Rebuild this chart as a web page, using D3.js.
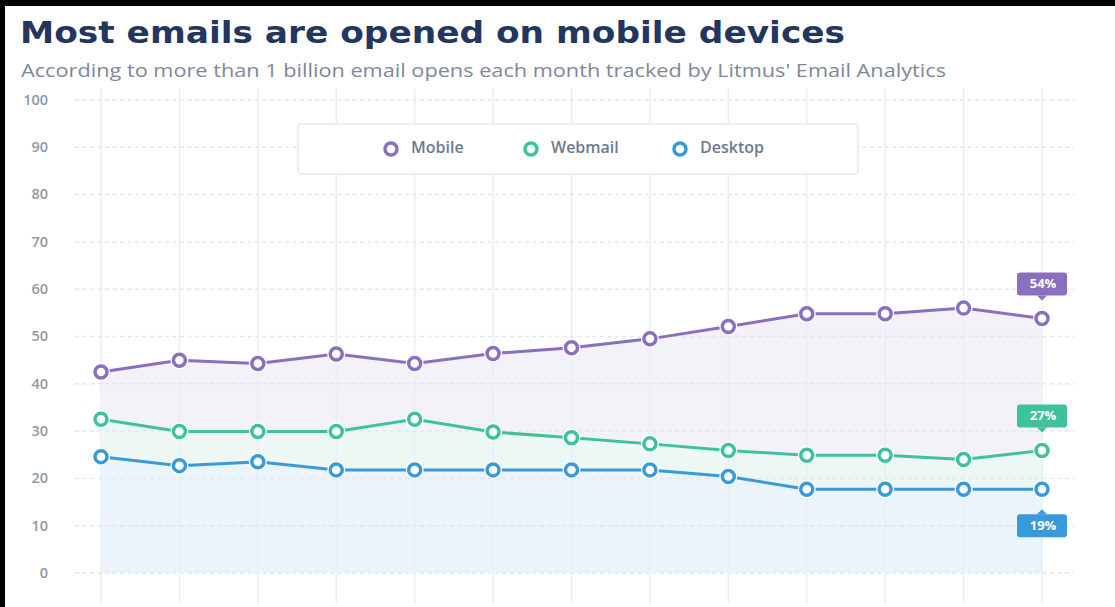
<!DOCTYPE html>
<html>
<head>
<meta charset="utf-8">
<script src="https://cdn.jsdelivr.net/npm/d3@7"></script>
<style>
  body { margin: 0; background: #000; }
  svg { display: block; }
</style>
</head>
<body>
<script>
var width = 1115,
    height = 607;

// months tracked (no labels shown on the chart)
var months = [1, 2, 3, 4, 5, 6, 7, 8, 9, 10, 11, 12, 13];
var mobile  = [42.5, 45.0, 44.3, 46.3, 44.3, 46.4, 47.6, 49.5, 52.1, 54.8, 54.8, 56.0, 53.8];
var webmail = [32.5, 29.9, 29.9, 29.9, 32.5, 29.8, 28.6, 27.3, 25.9, 24.9, 24.9, 24.0, 25.9];
var desktop = [24.6, 22.7, 23.5, 21.8, 21.8, 21.8, 21.8, 21.8, 20.4, 17.7, 17.7, 17.7, 17.7];
var yTicks = [0, 10, 20, 30, 40, 50, 60, 70, 80, 90, 100];
var seriesNames = ["Mobile", "Webmail", "Desktop"];
var endLabels = ["54%", "27%", "19%"];

var colors = ["#8a6fbe", "#3fc29c", "#3a9ad9"];
var fills  = ["#f4f2f9", "#edf8f5", "#ecf4fb"];

var svg = d3.select("body")
    .append("svg")
    .attr("width", width)
    .attr("height", height);

// black frame on the top and left, like the screenshot
svg.append("rect")
    .attr("x", 5).attr("y", 6)
    .attr("width", width - 5).attr("height", height - 6)
    .attr("fill", "#fff");

// titles
svg.append("text")
    .attr("x", 20).attr("y", 43)
    .attr("textLength", 825)
    .attr("lengthAdjust", "spacingAndGlyphs")
    .style("font-family", "'DejaVu Sans', sans-serif")
    .style("font-weight", "bold")
    .style("font-size", "30px")
    .style("fill", "#22365f")
    .text("Most emails are opened on mobile devices");

svg.append("text")
    .attr("x", 21).attr("y", 77)
    .attr("textLength", 925)
    .attr("lengthAdjust", "spacingAndGlyphs")
    .style("font-family", "'Open Sans', sans-serif")
    .style("font-size", "18.5px")
    .style("fill", "#7d889a")
    .text("According to more than 1 billion email opens each month tracked by Litmus' Email Analytics");

var x = d3.scalePoint()
    .domain(months)
    .range([101, 1042]);

var y = d3.scaleLinear()
    .domain([0, 100])
    .range([573, 100]);

var allSeries = [mobile, webmail, desktop];

// areas, mobile first so the lower series paint over it
var area = d3.area()
    .x(function (d, i) { return x(months[i]); })
    .y0(y(0))
    .y1(function (d) { return y(d); });

svg.append("g")
    .selectAll("path")
    .data(allSeries)
    .enter().append("path")
    .attr("d", area)
    .attr("fill", function (d, i) { return fills[i]; });

// vertical grid
svg.append("g")
    .selectAll("line")
    .data(months)
    .enter().append("line")
    .attr("x1", function (d) { return x(d); })
    .attr("x2", function (d) { return x(d); })
    .attr("y1", 88)
    .attr("y2", 604)
    .attr("stroke", "#e4f0f8")
    .attr("stroke-width", 1.5);

// horizontal dashed grid
svg.append("g")
    .selectAll("line")
    .data(yTicks)
    .enter().append("line")
    .attr("x1", 75)
    .attr("x2", 1074)
    .attr("y1", function (d) { return y(d); })
    .attr("y2", function (d) { return y(d); })
    .attr("stroke", "#e3e6eb")
    .attr("stroke-width", 1.5)
    .attr("stroke-dasharray", "4,3.5");

// y labels
svg.append("g")
    .selectAll("text")
    .data(yTicks)
    .enter().append("text")
    .attr("x", 48)
    .attr("y", function (d) { return y(d) + 1; })
    .attr("text-anchor", "end")
    .attr("dominant-baseline", "middle")
    .style("font-family", "'Open Sans', sans-serif")
    .style("font-weight", "600")
    .style("font-size", "14.5px")
    .style("fill", "#8f99a7")
    .text(function (d) { return d; });

// legend
var legend = svg.append("g");
legend.append("rect")
    .attr("x", 298).attr("y", 124)
    .attr("width", 560).attr("height", 50)
    .attr("rx", 3)
    .attr("fill", "#fff")
    .attr("stroke", "#e2eaf1")
    .attr("stroke-width", 1.5);

var legendX = [391, 531, 680];
var item = legend.selectAll("g")
    .data(seriesNames)
    .enter().append("g")
    .attr("transform", function (d, i) { return "translate(" + legendX[i] + ",149)"; });
item.append("circle")
    .attr("r", 6)
    .attr("fill", "#fff")
    .attr("stroke", function (d, i) { return colors[i]; })
    .attr("stroke-width", 3.5);
item.append("text")
    .attr("x", 20)
    .attr("dominant-baseline", "middle")
    .style("font-family", "'Open Sans', sans-serif")
    .style("font-weight", "600")
    .style("font-size", "16px")
    .style("fill", "#6c7a8f")
    .text(function (d) { return d; });

// lines and points
var line = d3.line()
    .x(function (d, i) { return x(months[i]); })
    .y(function (d) { return y(d); });

allSeries.forEach(function (values, s) {
    var g = svg.append("g");
    g.append("path")
        .attr("d", line(values))
        .attr("fill", "none")
        .attr("stroke", colors[s])
        .attr("stroke-width", 3);

    var pts = g.selectAll("g")
        .data(values)
        .enter().append("g")
        .attr("transform", function (d, i) { return "translate(" + x(months[i]) + "," + y(d) + ")"; });
    pts.append("circle")
        .attr("r", 9)
        .attr("fill", "#fff");
    pts.append("circle")
        .attr("r", 6)
        .attr("fill", "#fff")
        .attr("stroke", colors[s])
        .attr("stroke-width", 3.5);
});

// end labels
var lastX = x(months[months.length - 1]);
allSeries.forEach(function (values, s) {
    var py = y(values[values.length - 1]);
    var below = s === 2;
    var top = below ? py + 25 : py - 46;
    var g = svg.append("g").attr("transform", "translate(" + lastX + "," + top + ")");
    g.append("rect")
        .attr("x", -25).attr("y", 0)
        .attr("width", 50).attr("height", 23)
        .attr("rx", 3)
        .attr("fill", colors[s]);
    g.append("path")
        .attr("d", below ? "M-5,0L0,-5L5,0Z" : "M-5,23L0,28L5,23Z")
        .attr("fill", colors[s]);
    g.append("text")
        .attr("x", 1).attr("y", 12)
        .attr("text-anchor", "middle")
        .attr("dominant-baseline", "middle")
        .style("font-family", "'Open Sans', sans-serif")
        .style("font-weight", "bold")
        .style("font-size", "13px")
        .style("fill", "#fff")
        .text(endLabels[s]);
});
</script>
</body>
</html>
